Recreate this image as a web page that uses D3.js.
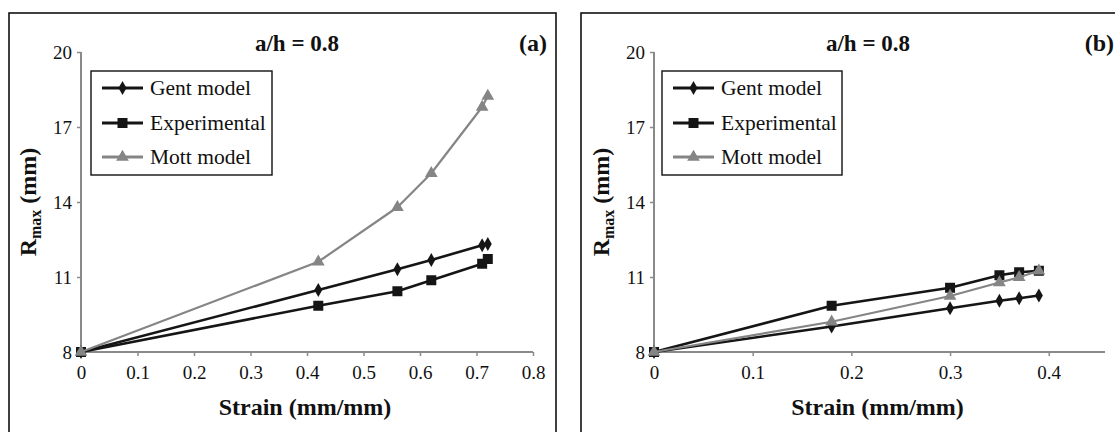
<!DOCTYPE html>
<html><head><meta charset="utf-8">
<script src="https://cdn.jsdelivr.net/npm/d3@7"></script>
<style>body{margin:0;background:#fff}svg{display:block}svg text{font-family:"Liberation Serif","DejaVu Serif",serif !important}</style>
</head><body><svg id="c" width="1115" height="432"></svg>
<script>
const seriesNames = ["Gent model", "Experimental", "Mott model"];
const yTicks = [8, 11, 14, 17, 20];
const xTicksA = [0, 0.1, 0.2, 0.3, 0.4, 0.5, 0.6, 0.7, 0.8];
const xTicksB = [0, 0.1, 0.2, 0.3, 0.4];

const strainA = [0, 0.42, 0.56, 0.62, 0.71, 0.72];
const gentA = [8, 10.48, 11.31, 11.68, 12.27, 12.32];
const expA = [8, 9.85, 10.43, 10.87, 11.53, 11.72];
const mottA = [8, 11.61, 13.79, 15.15, 17.8, 18.24];

const strainB = [0, 0.18, 0.30, 0.35, 0.37, 0.39];
const gentB = [8, 9.02, 9.75, 10.05, 10.15, 10.26];
const expB = [8, 9.85, 10.57, 11.07, 11.19, 11.25];
const mottB = [8, 9.21, 10.24, 10.78, 10.99, 11.25];

const svg = d3.select("#c");

function panel(cfg) {
  const g = svg.append("g");
  g.append("rect").attr("x", cfg.frame[0]).attr("y", cfg.frame[1])
    .attr("width", cfg.frame[2]).attr("height", cfg.frame[3])
    .attr("fill", "none").attr("stroke", "#111").attr("stroke-width", 1.6);

  const x = d3.scaleLinear().domain(cfg.xDomain).range([cfg.x0, cfg.x1]);
  const y = d3.scaleLinear().domain([8, 20]).range([352, 52]);

  const ya = g.append("g").attr("transform", `translate(${cfg.x0},0)`)
    .call(d3.axisLeft(y).tickValues(yTicks).tickSize(4).tickPadding(5).tickFormat(d3.format("d")));
  ya.select(".domain").attr("stroke", "#8a8a8a").attr("stroke-width", 2).attr("d", `M0,${y(20)}V${y(8)}`);
  ya.selectAll(".tick line").attr("stroke", "#8a8a8a").attr("stroke-width", 1.5);
  ya.selectAll(".tick text").attr("font-size", 19).attr("fill", "#111");

  const xa = g.append("g").attr("transform", `translate(0,${y(8)})`)
    .call(d3.axisBottom(x).tickValues(cfg.xTicks).tickSize(4).tickPadding(10).tickFormat(d => d === 0 ? "0" : d3.format(".1f")(d)));
  xa.select(".domain").attr("stroke", "#8a8a8a").attr("stroke-width", 2).attr("d", `M${cfg.x0},0H${cfg.x1}`);
  xa.selectAll(".tick line").attr("stroke", "#8a8a8a").attr("stroke-width", 1.5);
  xa.selectAll(".tick text").attr("font-size", 19).attr("fill", "#111");

  g.append("text").attr("x", cfg.titleX).attr("y", 51).attr("text-anchor", "middle")
    .attr("font-size", 23).attr("font-weight", "bold").attr("fill", "#111").text("a/h = 0.8");
  g.append("text").attr("x", cfg.tagX).attr("y", 51).attr("text-anchor", "end")
    .attr("font-size", 24).attr("font-weight", "bold").attr("fill", "#111").text(cfg.tag);
  g.append("text").attr("x", (cfg.x0 + cfg.x1) / 2 - 2).attr("y", 415).attr("text-anchor", "middle")
    .attr("font-size", 24).attr("font-weight", "bold").attr("fill", "#111").text("Strain (mm/mm)");
  const yt = g.append("text").attr("transform", `translate(${cfg.x0 - 45},202) rotate(-90)`)
    .attr("text-anchor", "middle").attr("font-size", 24).attr("font-weight", "bold").attr("fill", "#111");
  yt.append("tspan").text("R");
  yt.append("tspan").attr("font-size", 16).attr("dy", 5).text("max");
  yt.append("tspan").attr("dy", -5).text(" (mm)");

  const styles = [
    {color: "#151515", w: 2.6, sym: d3.symbolDiamond, size: 55},
    {color: "#151515", w: 2.6, sym: d3.symbolSquare, size: 100},
    {color: "#858585", w: 2.2, sym: d3.symbolTriangle, size: 70}
  ];
  const line = d3.line().x(d => x(d[0])).y(d => y(d[1]));
  cfg.series.forEach((vals, i) => {
    const pts = cfg.strain.map((s, j) => [s, vals[j]]);
    const st = styles[i];
    g.append("path").datum(pts).attr("d", line).attr("fill", "none")
      .attr("stroke", st.color).attr("stroke-width", st.w).attr("stroke-linejoin", "round");
    g.selectAll(null).data(pts).enter().append("path")
      .attr("transform", d => `translate(${x(d[0])},${y(d[1])})`)
      .attr("d", d3.symbol().type(st.sym).size(st.size)).attr("fill", st.color);
  });

  const L = cfg.legend;
  g.append("rect").attr("x", L[0]).attr("y", 71).attr("width", L[1]).attr("height", 104)
    .attr("fill", "#fff").attr("stroke", "#111").attr("stroke-width", 1.4);
  const ly = [88, 123, 157];
  seriesNames.forEach((n, i) => {
    const st = styles[i];
    g.append("line").attr("x1", L[0] + 11).attr("x2", L[0] + 52).attr("y1", ly[i]).attr("y2", ly[i])
      .attr("stroke", st.color).attr("stroke-width", 3);
    g.append("path").attr("transform", `translate(${L[0] + 31.5},${ly[i]})`)
      .attr("d", d3.symbol().type(st.sym).size(st.size)).attr("fill", st.color);
    g.append("text").attr("x", L[0] + 59).attr("y", ly[i] + 7).attr("font-size", 21.5)
      .attr("fill", "#111").text(n);
  });
}

panel({frame: [9, 13, 547, 440], x0: 81, x1: 533, xDomain: [0, 0.8], xTicks: xTicksA,
  strain: strainA, series: [gentA, expA, mottA], titleX: 297, tagX: 547, tag: "(a)", legend: [91, 181]});
panel({frame: [581, 13, 560, 440], x0: 654, x1: 1105, xDomain: [0, 0.457], xTicks: xTicksB,
  strain: strainB, series: [gentB, expB, mottB], titleX: 868, tagX: 1114, tag: "(b)", legend: [662, 180]});
</script></body></html>
